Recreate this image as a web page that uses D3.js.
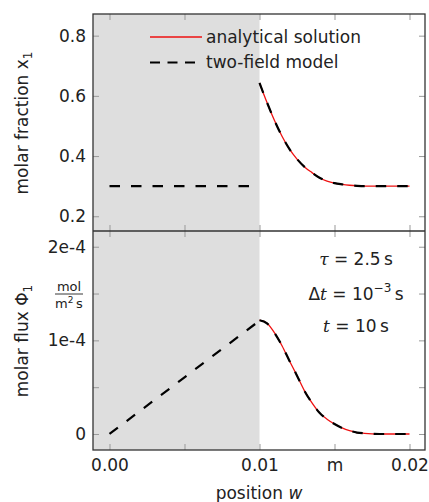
<!DOCTYPE html>
<html>
<head>
<meta charset="utf-8">
<script src="https://cdn.jsdelivr.net/npm/d3@7"></script>
<style>
  body { margin: 0; background: #fff; }
  text { font-family: "DejaVu Sans", sans-serif; fill: #222; }
</style>
</head>
<body>
<div id="container"></div>
<script>
// position w (m) and read-off values
const wLeft = [0, 0.01];
const x1Left = [0.3, 0.3];
const phiLeft = [0, 1.21e-4];

const wRight = [0.0100, 0.0105, 0.0110, 0.0115, 0.0120, 0.0125, 0.0130, 0.0135, 0.0140, 0.0145,
                0.0150, 0.0155, 0.0160, 0.0165, 0.0170, 0.0175, 0.0180, 0.0185, 0.0190, 0.0195, 0.0200];
const x1Right = [0.643, 0.578, 0.518, 0.466, 0.423, 0.390, 0.364, 0.345, 0.328, 0.317,
                 0.310, 0.306, 0.303, 0.301, 0.300, 0.300, 0.300, 0.300, 0.300, 0.300, 0.300];
const phiRight = [1.215e-4, 1.182e-4, 1.08e-4, 0.943e-4, 0.78e-4, 0.623e-4, 0.46e-4, 0.332e-4, 0.226e-4, 0.158e-4,
                  0.107e-4, 0.065e-4, 0.035e-4, 0.015e-4, 0.007e-4, 0.002e-4, 0, 0, 0, 0, 0];

const xTicks = [0, 0.005, 0.01, 0.015, 0.02];
const xTickLabels = ["0.00", "", "0.01", "m", "0.02"];
const y1Ticks = [0.2, 0.4, 0.6, 0.8];
const y2Ticks = [0, 0.5e-4, 1e-4, 1.5e-4, 2e-4];
const y2TickLabels = ["0", "", "1e-4", "", "2e-4"];

const W = 429, H = 502;
const pL = 93, pR = 425, pT = 14, pM = 231, pB = 450;

const svg = d3.select("#container").append("svg")
  .attr("width", W).attr("height", H);

const x = d3.scaleLinear().domain([-0.0011, 0.021033]).range([pL, pR]);
const y1 = d3.scaleLinear().domain([0.151, 0.872]).range([pM, pT]);
const y2 = d3.scaleLinear().domain([-0.171e-4, 2.168e-4]).range([pB, pM]);

// shaded region (membrane)
svg.append("rect")
  .attr("x", pL).attr("y", pT)
  .attr("width", x(0.01) - pL).attr("height", pB - pT)
  .attr("fill", "#dedede");

function ticksOnly(g) {
  g.select(".domain").remove();
  g.selectAll(".tick line").attr("stroke", "#999");
}

// top panel axes
svg.append("g").attr("transform", `translate(${pL},0)`)
  .call(d3.axisLeft(y1).tickValues(y1Ticks).tickSize(-6).tickPadding(7).tickFormat(d3.format(".1f")))
  .call(ticksOnly);
svg.append("g").attr("transform", `translate(${pR},0)`)
  .call(d3.axisRight(y1).tickValues(y1Ticks).tickSize(-6).tickFormat(""))
  .call(ticksOnly);
svg.append("g").attr("transform", `translate(0,${pT})`)
  .call(d3.axisTop(x).tickValues(xTicks).tickSize(-6).tickFormat(""))
  .call(ticksOnly);
svg.append("g").attr("transform", `translate(0,${pM})`)
  .call(d3.axisBottom(x).tickValues(xTicks).tickSize(-6).tickFormat(""))
  .call(ticksOnly);

// bottom panel axes
svg.append("g").attr("transform", `translate(${pL},0)`)
  .call(d3.axisLeft(y2).tickValues(y2Ticks).tickSize(-6).tickPadding(7).tickFormat((d, i) => y2TickLabels[i]))
  .call(ticksOnly);
svg.append("g").attr("transform", `translate(${pR},0)`)
  .call(d3.axisRight(y2).tickValues(y2Ticks).tickSize(-6).tickFormat(""))
  .call(ticksOnly);
svg.append("g").attr("transform", `translate(0,${pM})`)
  .call(d3.axisTop(x).tickValues(xTicks).tickSize(-6).tickFormat(""))
  .call(ticksOnly);
svg.append("g").attr("transform", `translate(0,${pB})`)
  .call(d3.axisBottom(x).tickValues(xTicks).tickSize(-6).tickPadding(9).tickFormat((d, i) => xTickLabels[i]))
  .call(ticksOnly);

svg.selectAll(".tick text").attr("font-size", 17).attr("font-family", "DejaVu Sans").attr("fill", "#222");

// frames
svg.append("rect").attr("x", pL).attr("y", pT).attr("width", pR - pL).attr("height", pB - pT)
  .attr("fill", "none").attr("stroke", "#333").attr("stroke-width", 1.3);
svg.append("line").attr("x1", pL).attr("x2", pR).attr("y1", pM).attr("y2", pM)
  .attr("stroke", "#333").attr("stroke-width", 1.3);

// lines
const lineTop = d3.line().x(d => x(d[0])).y(d => y1(d[1])).curve(d3.curveMonotoneX);
const lineBot = d3.line().x(d => x(d[0])).y(d => y2(d[1])).curve(d3.curveMonotoneX);
const topRight = d3.zip(wRight, x1Right);
const botRight = d3.zip(wRight, phiRight);
const dash = "10.5,11";

svg.append("path").attr("d", lineTop(topRight)).attr("fill", "none").attr("stroke", "#ee1111").attr("stroke-width", 1.3);
svg.append("path").attr("d", lineBot(botRight)).attr("fill", "none").attr("stroke", "#ee1111").attr("stroke-width", 1.3);

[[lineTop, d3.zip(wLeft, x1Left)], [lineTop, topRight], [lineBot, d3.zip(wLeft, phiLeft)], [lineBot, botRight]]
  .forEach(([gen, data]) => {
    svg.append("path").attr("d", gen(data)).attr("fill", "none")
      .attr("stroke", "#000").attr("stroke-width", 2.2).attr("stroke-dasharray", dash);
  });

// legend
const legend = svg.append("g");
legend.append("line").attr("x1", 150).attr("x2", 202).attr("y1", 37).attr("y2", 37)
  .attr("stroke", "#ee1111").attr("stroke-width", 1.3);
legend.append("line").attr("x1", 150).attr("x2", 202).attr("y1", 62.5).attr("y2", 62.5)
  .attr("stroke", "#000").attr("stroke-width", 2.2).attr("stroke-dasharray", "10,7.5");
legend.append("text").attr("x", 206).attr("y", 43).attr("font-size", 17).text("analytical solution");
legend.append("text").attr("x", 206).attr("y", 68).attr("font-size", 17).text("two-field model");

// y labels
const yl1 = svg.append("text").attr("transform", "translate(28,123) rotate(-90)")
  .attr("text-anchor", "middle").attr("font-size", 17);
yl1.append("tspan").text("molar fraction x");
yl1.append("tspan").attr("font-size", 12).attr("dy", 4).text("1");

const yl2 = svg.append("text").attr("transform", "translate(28,341) rotate(-90)")
  .attr("text-anchor", "middle").attr("font-size", 17);
yl2.append("tspan").text("molar flux Φ");
yl2.append("tspan").attr("font-size", 12).attr("dy", 4).text("1");

// unit fraction
svg.append("text").attr("x", 69).attr("y", 291).attr("text-anchor", "middle").attr("font-size", 13).text("mol");
const den = svg.append("text").attr("x", 69).attr("y", 308).attr("text-anchor", "middle").attr("font-size", 13);
den.append("tspan").text("m");
den.append("tspan").attr("font-size", 9).attr("dy", -5).text("2");
den.append("tspan").attr("dy", 5).text("\u2009s");
svg.append("line").attr("x1", 55).attr("x2", 83).attr("y1", 294).attr("y2", 294)
  .attr("stroke", "#222").attr("stroke-width", 0.9);

// x label
const xl = svg.append("text").attr("x", (pL + pR) / 2).attr("y", 499)
  .attr("text-anchor", "middle").attr("font-size", 17);
xl.append("tspan").text("position ");
xl.append("tspan").attr("font-style", "italic").text("w");

// parameters
const params = [
  [{t: "τ", it: true}, {t: " = 2.5\u2009s"}],
  [{t: "Δ"}, {t: "t", it: true}, {t: " = 10"}, {t: "−3", sup: true}, {t: "\u2009s", down: true}],
  [{t: "t", it: true}, {t: " = 10\u2009s"}]
];
const paramY = [265, 300, 332];
params.forEach((parts, i) => {
  const t = svg.append("text").attr("x", 356).attr("y", paramY[i])
    .attr("text-anchor", "middle").attr("font-size", 17);
  parts.forEach(p => {
    const s = t.append("tspan").text(p.t);
    if (p.it) s.attr("font-family", "DejaVu Serif").attr("font-style", "italic");
    if (p.sup) s.attr("font-size", 12).attr("dy", -8);
    if (p.down) s.attr("dy", 8);
  });
});
</script>
</body>
</html>
